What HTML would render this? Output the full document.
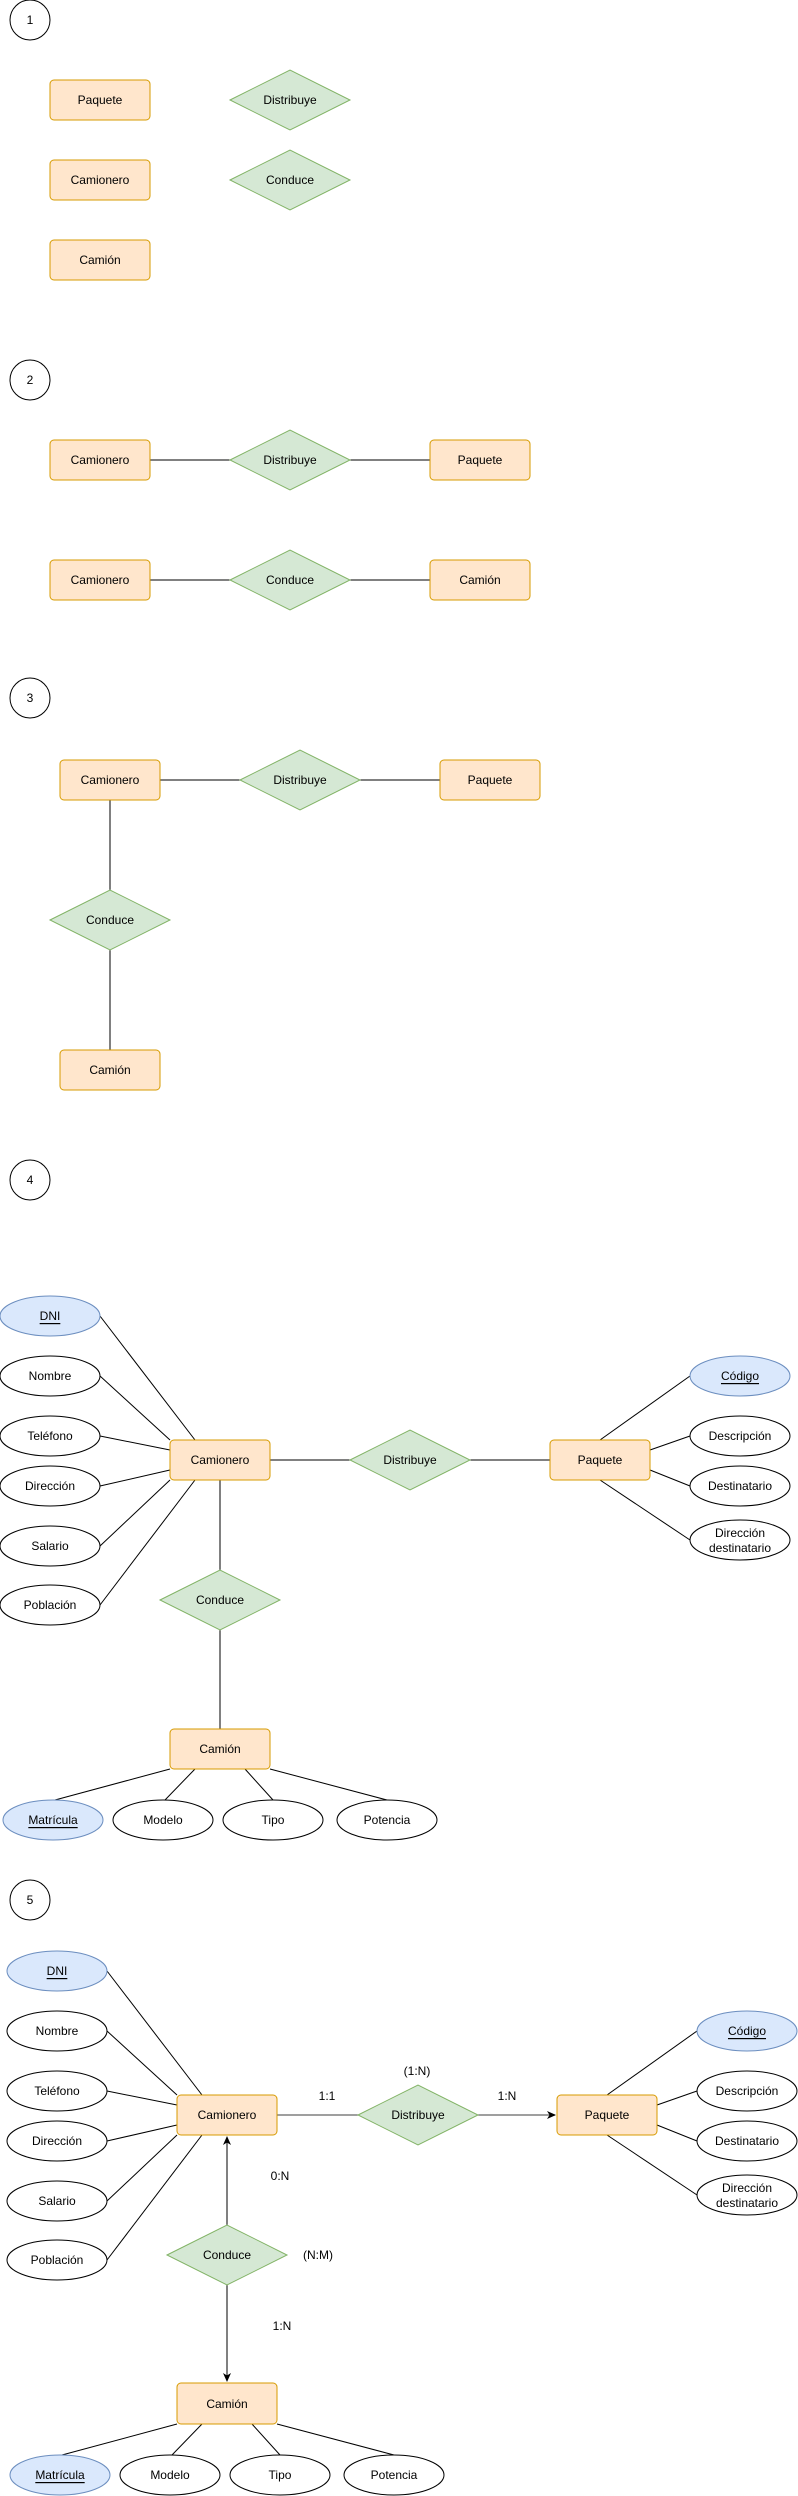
<!DOCTYPE html>
<html><head><meta charset="utf-8"><style>
html,body{margin:0;padding:0;background:#fff}
svg{display:block}
text{font-family:"Liberation Sans",Arial,sans-serif;font-size:12px;fill:#000;text-anchor:middle;dominant-baseline:central}
.e{fill:#ffe6cc;stroke:#d79b00;stroke-width:1}
.r{fill:#d5e8d4;stroke:#82b366;stroke-width:1}
.a{fill:#fff;stroke:#000;stroke-width:1}
.k{fill:#dae8fc;stroke:#6c8ebf;stroke-width:1}
.l{stroke:#000;stroke-width:1;fill:none}
.g{stroke:#666;stroke-width:1.3;fill:none}
</style></head><body>
<svg width="798" height="2496" viewBox="0 0 798 2496" xmlns="http://www.w3.org/2000/svg">
<defs><marker id="ar" markerWidth="10" markerHeight="10" refX="8" refY="4" orient="auto" markerUnits="userSpaceOnUse"><path d="M0,0 L9,4 L0,8 L2.5,4 Z" fill="#000"/></marker></defs>

<!-- 1 -->
<circle cx="30" cy="20" r="20" class="a"/><text x="30" y="20">1</text>
<rect x="50" y="80" width="100" height="40" rx="4" class="e"/><text x="100" y="100">Paquete</text>
<rect x="50" y="160" width="100" height="40" rx="4" class="e"/><text x="100" y="180">Camionero</text>
<rect x="50" y="240" width="100" height="40" rx="4" class="e"/><text x="100" y="260">Camión</text>
<polygon points="230,100 290,70 350,100 290,130" class="r"/><text x="290" y="100">Distribuye</text>
<polygon points="230,180 290,150 350,180 290,210" class="r"/><text x="290" y="180">Conduce</text>

<!-- 2 -->
<circle cx="30" cy="380" r="20" class="a"/><text x="30" y="380">2</text>
<line x1="150" y1="460" x2="430" y2="460" class="l"/>
<rect x="50" y="440" width="100" height="40" rx="4" class="e"/><text x="100" y="460">Camionero</text>
<polygon points="230,460 290,430 350,460 290,490" class="r"/><text x="290" y="460">Distribuye</text>
<rect x="430" y="440" width="100" height="40" rx="4" class="e"/><text x="480" y="460">Paquete</text>
<line x1="150" y1="580" x2="430" y2="580" class="l"/>
<rect x="50" y="560" width="100" height="40" rx="4" class="e"/><text x="100" y="580">Camionero</text>
<polygon points="230,580 290,550 350,580 290,610" class="r"/><text x="290" y="580">Conduce</text>
<rect x="430" y="560" width="100" height="40" rx="4" class="e"/><text x="480" y="580">Camión</text>

<!-- 3 -->
<circle cx="30" cy="698" r="20" class="a"/><text x="30" y="698">3</text>
<line x1="160" y1="780" x2="440" y2="780" class="l"/>
<line x1="110" y1="800" x2="110" y2="1050" class="l"/>
<rect x="60" y="760" width="100" height="40" rx="4" class="e"/><text x="110" y="780">Camionero</text>
<polygon points="240,780 300,750 360,780 300,810" class="r"/><text x="300" y="780">Distribuye</text>
<rect x="440" y="760" width="100" height="40" rx="4" class="e"/><text x="490" y="780">Paquete</text>
<polygon points="50,920 110,890 170,920 110,950" class="r"/><text x="110" y="920">Conduce</text>
<rect x="60" y="1050" width="100" height="40" rx="4" class="e"/><text x="110" y="1070">Camión</text>

<!-- 4 -->
<circle cx="30" cy="1180" r="20" class="a"/><text x="30" y="1180">4</text>
<g class="l">
<line x1="100" y1="1316" x2="195" y2="1440"/>
<line x1="100" y1="1376" x2="170" y2="1440"/>
<line x1="100" y1="1436" x2="170" y2="1450"/>
<line x1="100" y1="1486" x2="170" y2="1470"/>
<line x1="100" y1="1546" x2="170" y2="1480"/>
<line x1="100" y1="1605" x2="195" y2="1480"/>
<line x1="270" y1="1460" x2="550" y2="1460"/>
<line x1="220" y1="1480" x2="220" y2="1729"/>
<line x1="600" y1="1440" x2="690" y2="1376"/>
<line x1="650" y1="1450" x2="690" y2="1436"/>
<line x1="650" y1="1470" x2="690" y2="1486"/>
<line x1="600" y1="1480" x2="690" y2="1540"/>
<line x1="170" y1="1769" x2="55" y2="1800"/>
<line x1="195" y1="1769" x2="165" y2="1800"/>
<line x1="245" y1="1769" x2="273" y2="1800"/>
<line x1="270" y1="1769" x2="387" y2="1800"/>
</g>
<ellipse cx="50" cy="1316" rx="50" ry="20" class="k"/><text x="50" y="1316" text-decoration="underline">DNI</text>
<ellipse cx="50" cy="1376" rx="50" ry="20" class="a"/><text x="50" y="1376">Nombre</text>
<ellipse cx="50" cy="1436" rx="50" ry="20" class="a"/><text x="50" y="1436">Teléfono</text>
<ellipse cx="50" cy="1486" rx="50" ry="20" class="a"/><text x="50" y="1486">Dirección</text>
<ellipse cx="50" cy="1546" rx="50" ry="20" class="a"/><text x="50" y="1546">Salario</text>
<ellipse cx="50" cy="1605" rx="50" ry="20" class="a"/><text x="50" y="1605">Población</text>
<rect x="170" y="1440" width="100" height="40" rx="4" class="e"/><text x="220" y="1460">Camionero</text>
<polygon points="350,1460 410,1430 470,1460 410,1490" class="r"/><text x="410" y="1460">Distribuye</text>
<rect x="550" y="1440" width="100" height="40" rx="4" class="e"/><text x="600" y="1460">Paquete</text>
<ellipse cx="740" cy="1376" rx="50" ry="20" class="k"/><text x="740" y="1376" text-decoration="underline">Código</text>
<ellipse cx="740" cy="1436" rx="50" ry="20" class="a"/><text x="740" y="1436">Descripción</text>
<ellipse cx="740" cy="1486" rx="50" ry="20" class="a"/><text x="740" y="1486">Destinatario</text>
<ellipse cx="740" cy="1540" rx="50" ry="20" class="a"/><text x="740" y="1533">Dirección</text><text x="740" y="1548">destinatario</text>
<polygon points="160,1600 220,1570 280,1600 220,1630" class="r"/><text x="220" y="1600">Conduce</text>
<rect x="170" y="1729" width="100" height="40" rx="4" class="e"/><text x="220" y="1749">Camión</text>
<ellipse cx="53" cy="1820" rx="50" ry="20" class="k"/><text x="53" y="1820" text-decoration="underline">Matrícula</text>
<ellipse cx="163" cy="1820" rx="50" ry="20" class="a"/><text x="163" y="1820">Modelo</text>
<ellipse cx="273" cy="1820" rx="50" ry="20" class="a"/><text x="273" y="1820">Tipo</text>
<ellipse cx="387" cy="1820" rx="50" ry="20" class="a"/><text x="387" y="1820">Potencia</text>

<!-- 5 -->
<circle cx="30" cy="1900" r="20" class="a"/><text x="30" y="1900">5</text>
<g class="l">
<line x1="107" y1="1971" x2="202" y2="2095"/>
<line x1="107" y1="2031" x2="177" y2="2095"/>
<line x1="107" y1="2091" x2="177" y2="2105"/>
<line x1="107" y1="2141" x2="177" y2="2125"/>
<line x1="107" y1="2201" x2="177" y2="2135"/>
<line x1="107" y1="2260" x2="202" y2="2135"/>
<line x1="607" y1="2095" x2="697" y2="2031"/>
<line x1="657" y1="2105" x2="697" y2="2091"/>
<line x1="657" y1="2125" x2="697" y2="2141"/>
<line x1="607" y1="2135" x2="697" y2="2195"/>
<line x1="177" y1="2424" x2="62" y2="2455"/>
<line x1="202" y1="2424" x2="172" y2="2455"/>
<line x1="252" y1="2424" x2="280" y2="2455"/>
<line x1="277" y1="2424" x2="394" y2="2455"/>
<line x1="227" y1="2225" x2="227" y2="2137" marker-end="url(#ar)"/>
<line x1="227" y1="2285" x2="227" y2="2381" marker-end="url(#ar)"/>
</g>
<line x1="277" y1="2115" x2="358" y2="2115" class="g"/>
<line x1="478" y1="2115" x2="555" y2="2115" class="g" marker-end="url(#ar)"/>
<ellipse cx="57" cy="1971" rx="50" ry="20" class="k"/><text x="57" y="1971" text-decoration="underline">DNI</text>
<ellipse cx="57" cy="2031" rx="50" ry="20" class="a"/><text x="57" y="2031">Nombre</text>
<ellipse cx="57" cy="2091" rx="50" ry="20" class="a"/><text x="57" y="2091">Teléfono</text>
<ellipse cx="57" cy="2141" rx="50" ry="20" class="a"/><text x="57" y="2141">Dirección</text>
<ellipse cx="57" cy="2201" rx="50" ry="20" class="a"/><text x="57" y="2201">Salario</text>
<ellipse cx="57" cy="2260" rx="50" ry="20" class="a"/><text x="57" y="2260">Población</text>
<rect x="177" y="2095" width="100" height="40" rx="4" class="e"/><text x="227" y="2115">Camionero</text>
<polygon points="358,2115 418,2085 478,2115 418,2145" class="r"/><text x="418" y="2115">Distribuye</text>
<rect x="557" y="2095" width="100" height="40" rx="4" class="e"/><text x="607" y="2115">Paquete</text>
<text x="327" y="2096">1:1</text><text x="417" y="2071">(1:N)</text><text x="507" y="2096">1:N</text>
<text x="280" y="2176">0:N</text><text x="318" y="2255">(N:M)</text><text x="282" y="2326">1:N</text>
<ellipse cx="747" cy="2031" rx="50" ry="20" class="k"/><text x="747" y="2031" text-decoration="underline">Código</text>
<ellipse cx="747" cy="2091" rx="50" ry="20" class="a"/><text x="747" y="2091">Descripción</text>
<ellipse cx="747" cy="2141" rx="50" ry="20" class="a"/><text x="747" y="2141">Destinatario</text>
<ellipse cx="747" cy="2195" rx="50" ry="20" class="a"/><text x="747" y="2188">Dirección</text><text x="747" y="2203">destinatario</text>
<polygon points="167,2255 227,2225 287,2255 227,2285" class="r"/><text x="227" y="2255">Conduce</text>
<rect x="177" y="2383" width="100" height="41" rx="4" class="e"/><text x="227" y="2404">Camión</text>
<ellipse cx="60" cy="2475" rx="50" ry="20" class="k"/><text x="60" y="2475" text-decoration="underline">Matrícula</text>
<ellipse cx="170" cy="2475" rx="50" ry="20" class="a"/><text x="170" y="2475">Modelo</text>
<ellipse cx="280" cy="2475" rx="50" ry="20" class="a"/><text x="280" y="2475">Tipo</text>
<ellipse cx="394" cy="2475" rx="50" ry="20" class="a"/><text x="394" y="2475">Potencia</text>
</svg>
</body></html>
